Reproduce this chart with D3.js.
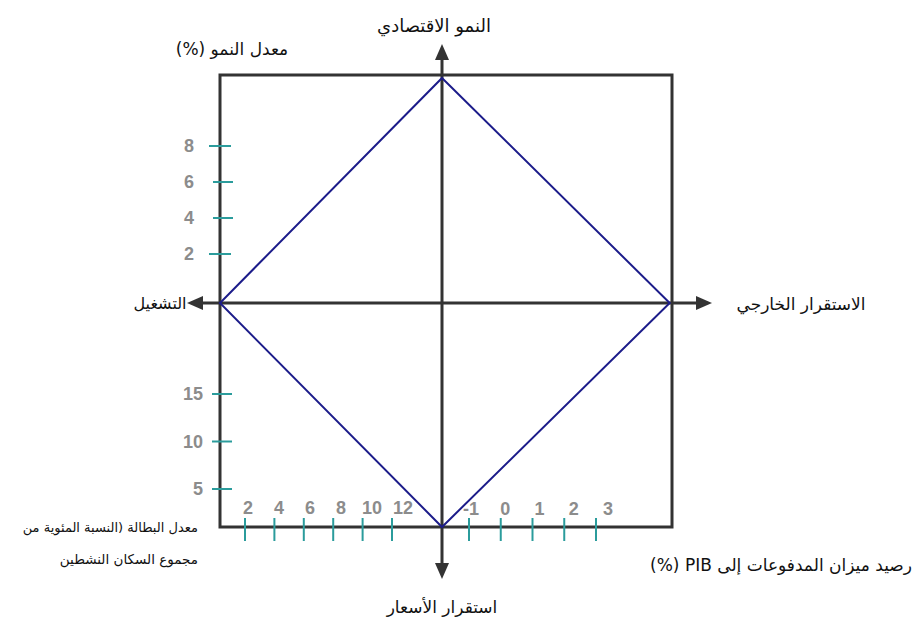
<!DOCTYPE html>
<html><head><meta charset="utf-8">
<script src="https://cdn.jsdelivr.net/npm/d3@7"></script>
<style>
html,body{margin:0;padding:0;background:#fff;}
svg{display:block;}
.ar{font-family:"DejaVu Sans",serif;fill:#111;}
.tk{font-family:Arial,"Liberation Sans",sans-serif;font-weight:bold;fill:#8c8c8c;font-size:18px;}
</style></head>
<body>
<script>
// ---- data ----
const growthTicks = [2, 4, 6, 8];                 // معدل النمو (%)
const unemploymentYTicks = [5, 10, 15];           // معدل البطالة (vertical)
const unemploymentXTicks = [2, 4, 6, 8, 10, 12];  // معدل البطالة (horizontal)
const balanceTicks = [-1, 0, 1, 2, 3];            // رصيد ميزان المدفوعات
const objectives = ["النمو الاقتصادي", "الاستقرار الخارجي", "استقرار الأسعار", "التشغيل"];
// magic-square vertices on each axis (share of half-extent): top, right, bottom, left
const squareValues = [0.987, 0.99, 1, 1];

const W = 924, H = 623;
const svg = d3.select("body").append("svg").attr("width", W).attr("height", H);

// normalized frame scales (center = 0, box edges = ±1)
const x = d3.scaleLinear().domain([-1, 0, 1]).range([220, 442, 672]);
const y = d3.scaleLinear().domain([-1, 0, 1]).range([527, 303, 75]);

// tick-axis scales
const gScale = d3.scaleLinear().domain([2, 8]).range([254, 146]);
const uyScale = d3.scaleLinear().domain([5, 15]).range([489, 394]);
const uxScale = d3.scaleLinear().domain([2, 12]).range([245, 392]);
const bScale = d3.scaleLinear().domain([-1, 3]).range([469, 596]);

const dark = "#333", teal = "#2b9c9c", navy = "#1c1c8a";

// box
svg.append("rect")
  .attr("x", x(-1)).attr("y", y(1))
  .attr("width", x(1) - x(-1)).attr("height", y(-1) - y(1))
  .attr("fill", "none").attr("stroke", dark).attr("stroke-width", 3);

// axes with arrows
const defs = svg.append("defs");
defs.append("marker").attr("id", "arr").attr("viewBox", "0 0 16 14")
  .attr("refX", 1).attr("refY", 7).attr("markerWidth", 16).attr("markerHeight", 14)
  .attr("markerUnits", "userSpaceOnUse").attr("orient", "auto")
  .append("path").attr("d", "M0,0 L16,7 L0,14 Z").attr("fill", dark);

svg.append("line").attr("x1", x(0)).attr("y1", y(0)).attr("x2", x(1) + 25).attr("y2", y(0))
  .attr("stroke", dark).attr("stroke-width", 3).attr("marker-end", "url(#arr)");
svg.append("line").attr("x1", x(0)).attr("y1", y(0)).attr("x2", x(-1) - 18).attr("y2", y(0))
  .attr("stroke", dark).attr("stroke-width", 3).attr("marker-end", "url(#arr)");
svg.append("line").attr("x1", x(0)).attr("y1", y(0)).attr("x2", x(0)).attr("y2", y(1) - 16)
  .attr("stroke", dark).attr("stroke-width", 3).attr("marker-end", "url(#arr)");
svg.append("line").attr("x1", x(0)).attr("y1", y(0)).attr("x2", x(0)).attr("y2", y(-1) + 37)
  .attr("stroke", dark).attr("stroke-width", 3).attr("marker-end", "url(#arr)");

// magic square (diamond)
const pts = [
  [x(0), y(squareValues[0])],
  [x(squareValues[1]), y(0)],
  [x(0), y(-squareValues[2])],
  [x(-squareValues[3]), y(0)]
];
svg.append("path").attr("d", d3.line()(pts) + "Z")
  .attr("fill", "none").attr("stroke", navy).attr("stroke-width", 2);

// ticks: growth
svg.selectAll(".gt").data(growthTicks).enter().append("line")
  .attr("x1", (d, i) => i % 3 === 0 ? 209 : 213).attr("x2", (d, i) => i % 3 === 0 ? 231 : 233)
  .attr("y1", d => gScale(d)).attr("y2", d => gScale(d))
  .attr("stroke", teal).attr("stroke-width", 2);
svg.selectAll(".gl").data(growthTicks).enter().append("text").attr("class", "tk")
  .attr("x", 194).attr("y", d => gScale(d)).attr("dy", "0.35em").attr("text-anchor", "end").text(d => d);

// ticks: unemployment vertical
svg.selectAll(".ut").data(unemploymentYTicks).enter().append("line")
  .attr("x1", 212).attr("x2", 232)
  .attr("y1", d => uyScale(d)).attr("y2", d => uyScale(d))
  .attr("stroke", teal).attr("stroke-width", 2);
svg.selectAll(".ul").data(unemploymentYTicks).enter().append("text").attr("class", "tk")
  .attr("x", 203).attr("y", d => uyScale(d)).attr("dy", "0.35em").attr("text-anchor", "end").text(d => d);

// ticks: unemployment horizontal
svg.selectAll(".uxt").data(unemploymentXTicks).enter().append("line")
  .attr("x1", d => uxScale(d)).attr("x2", d => uxScale(d))
  .attr("y1", 518).attr("y2", 541)
  .attr("stroke", teal).attr("stroke-width", 2);
svg.selectAll(".uxl").data(unemploymentXTicks).enter().append("text").attr("class", "tk")
  .attr("x", (d, i) => uxScale(d) + 3 + i * 1.6).attr("y", 514).attr("text-anchor", "middle").text(d => d);

// ticks: balance of payments
svg.selectAll(".bt").data(balanceTicks).enter().append("line")
  .attr("x1", d => bScale(d)).attr("x2", d => bScale(d))
  .attr("y1", 518).attr("y2", 541)
  .attr("stroke", teal).attr("stroke-width", 2);
svg.selectAll(".bl").data(balanceTicks).enter().append("text").attr("class", "tk")
  .attr("x", (d, i) => bScale(d) + 2 + i * 2.5).attr("y", 515).attr("text-anchor", "middle")
  .text(d => d < 0 ? "-" + Math.abs(d) : d);

// objective labels
const ar = (tx, ty, s, anchor, size) => svg.append("text").attr("class", "ar")
  .attr("x", tx).attr("y", ty).attr("direction", "rtl").attr("text-anchor", anchor || "middle")
  .attr("font-size", size || 17).text(s);

ar(434, 32, objectives[0], "middle", 18);
ar(801, 310, objectives[1], "middle", 17);
ar(442, 613, objectives[2], "middle", 17);
ar(160, 309, objectives[3], "middle", 16);

ar(232, 55, "معدل النمو (%)", "middle", 17);
ar(781, 571, "رصيد ميزان المدفوعات إلى PIB (%)", "middle", 17);
ar(198, 532, "معدل البطالة (النسبة المئوية من", "start", 13);
ar(198, 564, "مجموع السكان النشطين", "start", 13.5);
</script>
</body></html>
